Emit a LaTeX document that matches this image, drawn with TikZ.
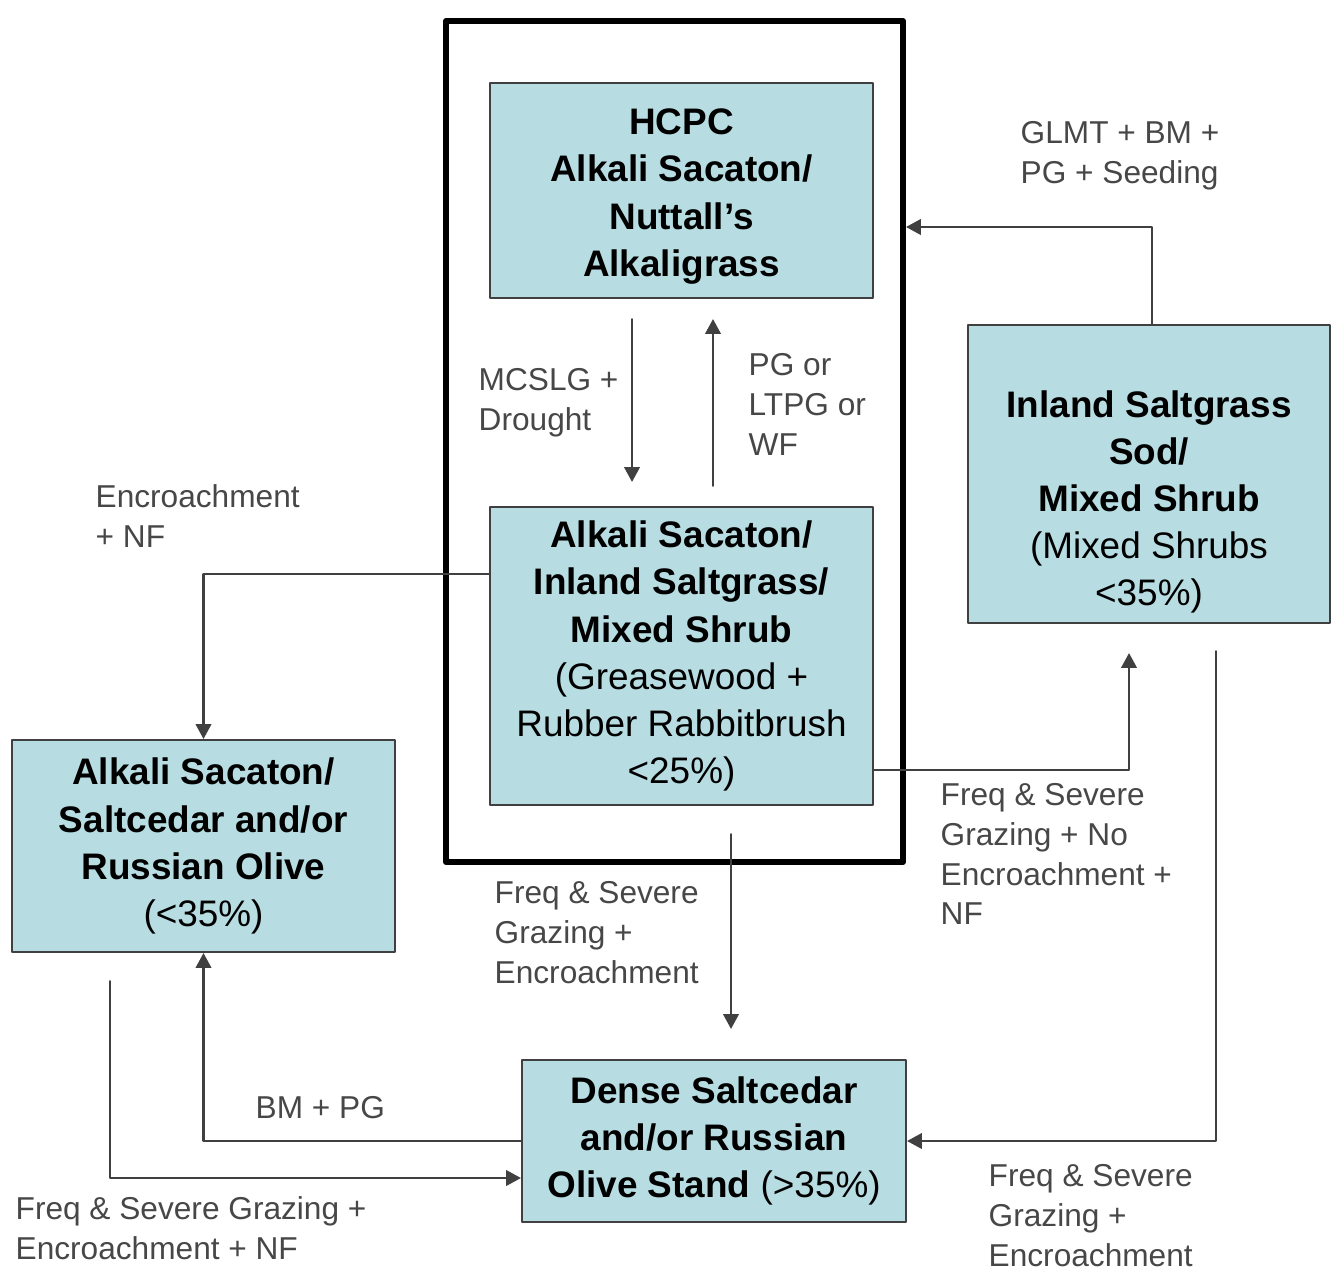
\documentclass[tikz,border=0pt]{standalone}
\usepackage{fontspec}
\setmainfont{Liberation Sans}
\usepackage{pgf,tikz}
\usetikzlibrary{arrows.meta}
\usetikzlibrary{calc}
\definecolor{boxfill}{RGB}{183,221,226}

\begin{document}
\begin{tikzpicture}[line cap=round,line join=round,>={Triangle[length=4.2pt,width=4.4pt]},x=1cm,y=1cm,
  state/.style={draw=black!75,line width=0.6pt,fill=boxfill,align=center,inner sep=0pt,
    font=\fontsize{10.5}{13.4}\selectfont\bfseries},
  note/.style={anchor=north west,align=left,inner sep=0pt,text=black!72,
    font=\fontsize{9}{11.3}\selectfont},
  arr/.style={->,draw=black!75,line width=0.6pt}]
\useasboundingbox (0,0) rectangle (13.32,12.69);
%\draw[help lines] (0,0) grid (13.32,12.69);
\node [draw=black,line width=0.06cm,minimum width=4.57cm,minimum height=8.41cm] (frame) at (6.745,8.275) {};
\node [state,minimum width=3.83cm,minimum height=2.15cm] (hcpc) at (6.815,10.785) {};
\node [state,fill=none,draw=none] (hcpctext) at ($(hcpc.center)+(0,-0.06)$) {HCPC\\Alkali Sacaton/\\Nuttall’s\\Alkaligrass};
\node [state,minimum width=3.83cm,minimum height=2.98cm] (sacaton) at (6.815,6.13) {Alkali Sacaton/\\Inland Saltgrass/\\Mixed Shrub\\{\mdseries(Greasewood +}\\{\mdseries Rubber Rabbitbrush}\\{\mdseries <25\%)}};
\node [state,minimum width=3.62cm,minimum height=2.98cm] (saltgrass) at (11.49,7.95) {};
\node [state,fill=none,draw=none] (saltgrasstext) at ($(saltgrass.center)+(0,-0.28)$) {Inland Saltgrass\\Sod/\\Mixed Shrub\\{\mdseries(Mixed Shrubs}\\{\mdseries <35\%)}};
\node [state,minimum width=3.83cm,minimum height=2.12cm] (saltcedar) at (2.035,4.23) {Alkali Sacaton/\\Saltcedar and/or\\Russian Olive\\{\mdseries(<35\%)}};
\node [state,minimum width=3.84cm,minimum height=1.62cm] (dense) at (7.14,1.28) {Dense Saltcedar\\and/or Russian\\Olive Stand {\mdseries(>35\%)}};
% transitions
\draw [arr] ($(hcpc.south)+(-0.495,-0.2)$) -- ($(sacaton.north)+(-0.495,0.24)$);
\draw [arr] ($(sacaton.north)+(0.315,0.2)$) -- ($(hcpc.south)+(0.315,-0.2)$);
\draw [arr] ($(saltgrass.north)+(0.03,0)$) |- ($(frame.east |- hcpc.east)+(0,-0.365)$);
\draw [arr] ($(sacaton.west)+(0,0.82)$) -| (saltcedar.north);
\draw [arr] ($(sacaton.east)+(0,-1.14)$) -| ($(saltgrass.south)+(-0.2,-0.29)$);
\draw [arr] ($(saltgrass.south)+(0.67,-0.27)$) |- (dense.east);
\draw [arr] ($(sacaton.south)+(0.495,-0.28)$) -- ($(dense.north)+(0.17,0.3)$);
\draw [arr] (dense.west) -| (saltcedar.south);
\draw [arr] ($(saltcedar.south)+(-0.935,-0.28)$) |- ($(dense.west)+(0,-0.37)$);
% labels
\node [note] (lblDrought) at (4.78,9.01) {MCSLG +\\Drought};
\node [note] (lblPG) at (7.48,9.16) {PG or\\LTPG or\\WF};
\node [note] (lblSeeding) at (10.20,11.48) {GLMT + BM +\\PG + Seeding};
\node [note] (lblEncr) at (0.95,7.85) {Encroachment\\+ NF};
\node [note] (lblNoEncr) at (9.40,4.86) {Freq \& Severe\\Grazing + No\\Encroachment +\\NF};
\node [note] (lblMid) at (4.94,3.88) {Freq \& Severe\\Grazing +\\Encroachment};
\node [note] (lblRight) at (9.88,1.05) {Freq \& Severe\\Grazing +\\Encroachment};
\node [note] (lblBM) at (2.55,1.73) {BM + PG};
\node [note] (lblLeft) at (0.15,0.73) {Freq \& Severe Grazing +\\Encroachment + NF};
\end{tikzpicture}
\end{document}
